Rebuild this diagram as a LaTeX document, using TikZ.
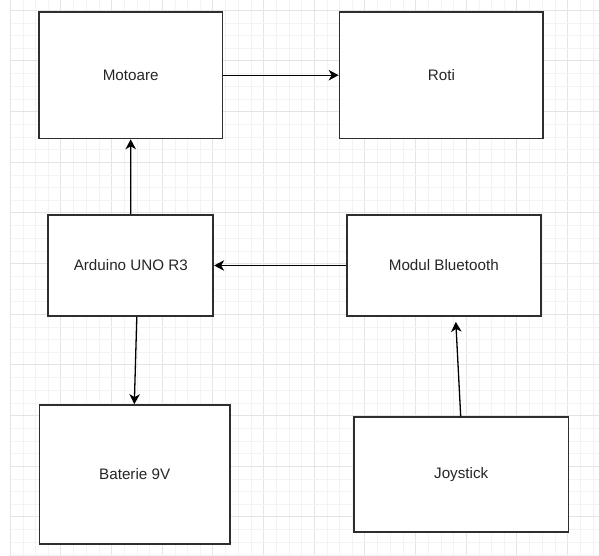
\documentclass[tikz,border=0pt]{standalone}
\usepackage{fontspec}
\setmainfont{Liberation Sans}
\usetikzlibrary{arrows.meta}
\definecolor{minorgrid}{HTML}{F3F3F3}
\definecolor{majorgrid}{HTML}{E4E4E4}
\definecolor{boxline}{HTML}{2E2E2E}
\tikzset{
  box/.style={draw=boxline, line width=1.7pt, fill=white, inner sep=0pt,
    font=\fontsize{15.2}{18}\selectfont, text=black!85},
  conn/.style={draw=black, line width=1.3pt,
    -{Stealth[length=10pt,width=10.5pt,inset=3pt]}},
  minorline/.style={draw=minorgrid, line width=0.8pt},
  majorline/.style={draw=majorgrid, line width=1pt}
}
\begin{document}
\begin{tikzpicture}[x=1pt,y=-1pt]
\useasboundingbox (0,0) rectangle (599,556);
\fill[white] (0,0) rectangle (599,556);
% grid
\foreach \k in {0,...,46} {
  \pgfmathsetmacro{\xx}{10.3+12.667*\k}
  \pgfmathtruncatemacro{\mm}{mod(\k,4)}
  \ifnum\mm=0
    \draw[majorline] (\xx,0) -- (\xx,556);
  \else
    \draw[minorline] (\xx,0) -- (\xx,556);
  \fi
}
\foreach \k in {0,...,43} {
  \pgfmathsetmacro{\yy}{10.3+12.667*\k}
  \pgfmathtruncatemacro{\mm}{mod(\k,4)}
  \ifnum\mm=0
    \draw[majorline] (11,\yy) -- (599,\yy);
  \else
    \draw[minorline] (11,\yy) -- (599,\yy);
  \fi
}
% boxes
\node[box, minimum width=183.5pt, minimum height=126.5pt] (mot) at (130.7,75.2) {Motoare};
\node[box, minimum width=203.8pt, minimum height=126.5pt] (roti) at (441.4,75.2) {Roti};
\node[box, minimum width=165pt, minimum height=101pt] (ard) at (130.8,265.5) {Arduino UNO R3};
\node[box, minimum width=194.3pt, minimum height=101pt] (bt) at (443.8,265.5) {Modul Bluetooth};
\node[box, minimum width=190.7pt, minimum height=139pt] (bat) at (134.7,474.5) {Baterie 9V};
\node[box, minimum width=214.3pt, minimum height=114.4pt] (joy) at (461.2,474.5) {Joystick};
% connectors
\draw[conn] (mot.east) -- (roti.west);
\draw[conn] (ard.north) -- (mot.south);
\draw[conn] (bt.west) -- (ard.east);
\draw[conn] ([xshift=6pt]ard.south) -- ([xshift=-0.4pt]bat.north);
\draw[conn] ([xshift=-0.5pt]joy.north) -- ([xshift=12pt,yshift=-5pt]bt.south);
\end{tikzpicture}
\end{document}
